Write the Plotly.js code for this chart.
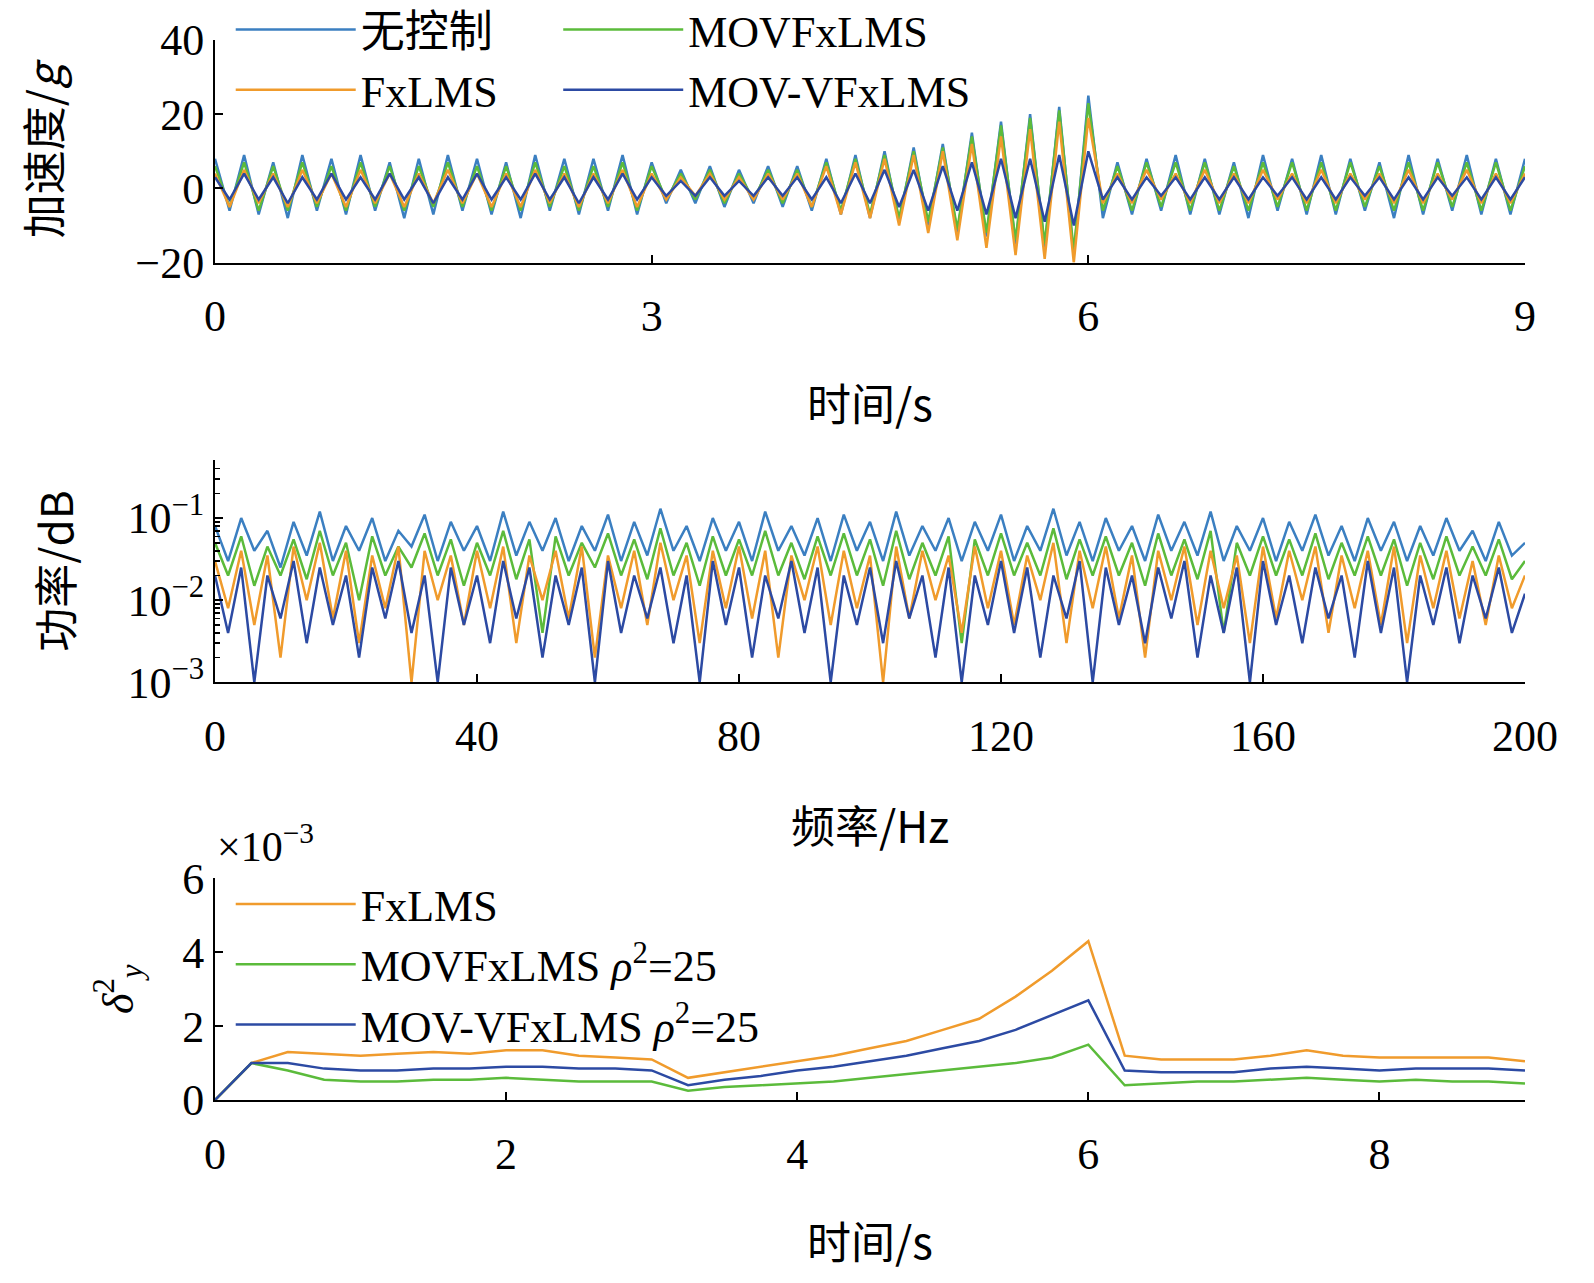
<!DOCTYPE html>
<html>
<head>
<meta charset="utf-8">
<script src="https://cdn.plot.ly/plotly-3.0.1.min.js"></script>
<style>body{margin:0;background:#fff}#plot{width:1594px;height:1283px}</style>
</head>
<body>
<div id="plot"></div>
<script>
// time panel, one value every 0.1 s from 0 to 9 s
const tStep = 0.1;
const accNoControl = [8,-6,9,-7,7,-8,9,-6,8,-7,9,-6,7,-8,8,-7,9,-6,8,-7,7,-8,9,-6,8,-7,8,-6,9,-7,7,
  -4,5,-4,6,-5,5,-4,6,-5,6,
  -6,8,-7,9,-8,10,-9,11,-10,12,
  -12,15,-13,18,-15,20,-16,22,-18,25,
  -8,7,-7,8,-6,9,-7,8,-7,7,-8,9,-6,8,-7,9,-7,8,-6,7,-8,9,-7,8,-6,9,-7,8,-7,8];
const accMovf = [6,-5,7,-6,6,-6,7,-5,6,-6,7,-5,6,-6,6,-5,7,-5,6,-6,6,-6,7,-5,6,-6,6,-5,7,-6,6,
  -3,4,-3,5,-4,4,-3,5,-4,5,
  -5,7,-6,8,-7,9,-8,10,-9,11,
  -11,14,-12,17,-14,19,-15,21,-17,23,
  -6,6,-6,7,-5,7,-6,7,-6,6,-6,7,-5,7,-6,7,-6,7,-5,6,-6,7,-6,7,-5,7,-6,7,-6,6];
const accFx = [4,-5,5,-4,4,-5,5,-4,4,-5,5,-4,4,-5,4,-4,5,-4,4,-5,4,-5,5,-4,4,-5,4,-4,5,-5,4,
  -3,3,-2,4,-3,3,-3,4,-3,4,
  -5,6,-7,7,-8,8,-10,9,-12,10,
  -14,12,-16,14,-18,16,-19,18,-20,19,
  -4,4,-4,5,-3,4,-4,5,-4,4,-4,5,-3,4,-4,5,-4,4,-3,4,-4,5,-4,4,-3,5,-4,4,-4,4];
const accMovv = [3,-3,4,-3,3,-4,3,-3,4,-3,3,-3,4,-3,3,-4,3,-3,4,-3,3,-3,4,-3,3,-4,3,-3,4,-3,3,
  -2,2,-2,3,-2,2,-2,3,-2,3,
  -3,3,-4,4,-4,5,-5,5,-6,6,
  -6,7,-7,8,-8,8,-9,9,-10,10,
  -3,3,-3,3,-2,3,-3,3,-3,3,-3,3,-2,3,-3,3,-3,3,-2,3,-3,3,-3,3,-2,3,-3,3,-3,3];

// spectrum panel, one value every 2 Hz from 0 to 200 Hz
const fStep = 2;
const psdNoControl = [0.08,0.03,0.1,0.04,0.07,0.025,0.09,0.035,0.12,0.03,0.08,0.04,0.1,0.03,0.07,0.045,0.11,0.03,0.09,0.04,
  0.08,0.03,0.12,0.035,0.09,0.04,0.1,0.03,0.08,0.04,0.11,0.03,0.09,0.035,0.13,0.04,0.08,0.03,0.1,0.04,
  0.09,0.03,0.12,0.04,0.08,0.035,0.1,0.03,0.11,0.04,0.09,0.03,0.12,0.035,0.08,0.04,0.1,0.03,0.09,0.04,
  0.11,0.03,0.08,0.04,0.13,0.035,0.09,0.03,0.1,0.04,0.08,0.03,0.11,0.04,0.09,0.035,0.12,0.03,0.08,0.04,
  0.1,0.03,0.09,0.04,0.11,0.035,0.08,0.03,0.1,0.04,0.09,0.03,0.08,0.035,0.1,0.04,0.07,0.03,0.09,0.035,0.05];
const psdMovf = [0.05,0.02,0.06,0.015,0.045,0.02,0.055,0.018,0.07,0.02,0.05,0.01,0.06,0.02,0.045,0.025,0.065,0.02,0.055,0.015,
  0.05,0.02,0.07,0.018,0.055,0.004,0.06,0.02,0.05,0.025,0.065,0.02,0.055,0.018,0.075,0.02,0.05,0.015,0.06,0.02,
  0.055,0.02,0.07,0.02,0.05,0.018,0.06,0.02,0.065,0.02,0.055,0.015,0.07,0.018,0.05,0.02,0.06,0.003,0.055,0.02,
  0.065,0.02,0.05,0.02,0.075,0.018,0.055,0.02,0.06,0.02,0.05,0.015,0.065,0.02,0.055,0.018,0.07,0.004,0.05,0.02,
  0.06,0.02,0.055,0.02,0.065,0.018,0.05,0.02,0.06,0.02,0.055,0.015,0.05,0.018,0.06,0.02,0.045,0.02,0.055,0.018,0.03];
const psdFx = [0.03,0.008,0.04,0.005,0.035,0.002,0.045,0.01,0.05,0.006,0.04,0.003,0.035,0.008,0.045,0.001,0.04,0.01,0.035,0.005,
  0.04,0.008,0.045,0.003,0.035,0.01,0.04,0.006,0.045,0.002,0.035,0.008,0.04,0.005,0.05,0.01,0.035,0.003,0.04,0.008,
  0.045,0.006,0.04,0.002,0.035,0.01,0.045,0.005,0.04,0.008,0.035,0.001,0.045,0.006,0.04,0.01,0.035,0.004,0.045,0.008,
  0.04,0.005,0.035,0.01,0.05,0.003,0.04,0.008,0.045,0.006,0.035,0.002,0.04,0.01,0.045,0.005,0.04,0.008,0.035,0.003,
  0.045,0.006,0.04,0.01,0.045,0.004,0.035,0.008,0.04,0.005,0.045,0.003,0.035,0.008,0.04,0.006,0.03,0.005,0.035,0.008,0.02];
const psdMovv = [0.02,0.004,0.025,0.001,0.02,0.006,0.03,0.003,0.025,0.005,0.02,0.002,0.025,0.006,0.03,0.004,0.02,0.001,0.025,0.005,
  0.02,0.003,0.03,0.006,0.025,0.002,0.02,0.005,0.025,0.001,0.03,0.004,0.02,0.006,0.025,0.003,0.02,0.001,0.03,0.005,
  0.025,0.002,0.02,0.006,0.03,0.004,0.025,0.001,0.02,0.005,0.025,0.003,0.03,0.006,0.02,0.002,0.025,0.001,0.02,0.005,
  0.03,0.004,0.025,0.002,0.02,0.006,0.03,0.001,0.025,0.005,0.02,0.003,0.025,0.006,0.03,0.002,0.02,0.004,0.025,0.001,
  0.03,0.005,0.02,0.003,0.025,0.006,0.02,0.002,0.03,0.004,0.025,0.001,0.02,0.005,0.025,0.003,0.02,0.006,0.025,0.004,0.012];
const logMinorTicks = [0.002,0.003,0.004,0.005,0.006,0.007,0.008,0.009,
  0.02,0.03,0.04,0.05,0.06,0.07,0.08,0.09,0.2,0.3,0.4,0.5];

// variance panel (x1e-3), one value every 0.25 s
const vStep = 0.25;
const varFx = [0,1.0,1.3,1.25,1.2,1.25,1.3,1.25,1.35,1.35,1.2,1.15,1.1,0.6,0.75,0.9,1.05,1.2,1.4,1.6,1.9,2.2,2.8,3.5,4.3,1.2,1.1,1.1,1.1,1.2,1.35,1.2,1.15,1.15,1.15,1.15,1.05];
const varMovf = [0,1.0,0.8,0.55,0.5,0.5,0.55,0.55,0.6,0.55,0.5,0.5,0.5,0.25,0.35,0.4,0.45,0.5,0.6,0.7,0.8,0.9,1.0,1.15,1.5,0.4,0.45,0.5,0.5,0.55,0.6,0.55,0.5,0.55,0.5,0.5,0.45];
const varMovv = [0,1.0,1.0,0.85,0.8,0.8,0.85,0.85,0.9,0.9,0.85,0.85,0.8,0.4,0.55,0.65,0.8,0.9,1.05,1.2,1.4,1.6,1.9,2.3,2.7,0.8,0.75,0.75,0.75,0.85,0.9,0.85,0.8,0.85,0.85,0.85,0.8];

const cNC = "#3b7fc1", cFx = "#f09b2c", cMovf = "#5bbb3b", cMovv = "#2c4aa3";
const idx = (arr, step) => arr.map((_, i) => +(i * step).toFixed(3));

function trace(y, step, color, name, xa, ya, legend, rank, show) {
    return {x: idx(y, step), y: y, mode: "lines", name: name, xaxis: xa, yaxis: ya,
        line: {color: color, width: 2.5}, legend: legend, legendrank: rank, showlegend: show};
}

const data = [
    trace(accNoControl, tStep, cNC, "无控制", "x", "y", "legend", 1, true),
    trace(accMovf, tStep, cMovf, "MOVFxLMS", "x", "y", "legend3", 1, true),
    trace(accFx, tStep, cFx, "FxLMS", "x", "y", "legend", 2, true),
    trace(accMovv, tStep, cMovv, "MOV-VFxLMS", "x", "y", "legend3", 2, true),
    trace(psdNoControl, fStep, cNC, "", "x2", "y2", "legend", 5, false),
    trace(psdMovf, fStep, cMovf, "", "x2", "y2", "legend", 6, false),
    trace(psdFx, fStep, cFx, "", "x2", "y2", "legend", 7, false),
    trace(psdMovv, fStep, cMovv, "", "x2", "y2", "legend", 8, false),
    trace(varFx, vStep, cFx, "FxLMS", "x3", "y3", "legend2", 1, true),
    trace(varMovf, vStep, cMovf, "MOVFxLMS <i>ρ</i><sup>2</sup>=25", "x3", "y3", "legend2", 2, true),
    trace(varMovv, vStep, cMovv, "MOV-VFxLMS <i>ρ</i><sup>2</sup>=25", "x3", "y3", "legend2", 3, true)
];

const serif = "Liberation Serif, Times New Roman, serif";
const cjk = "Noto Sans CJK SC, sans-serif";
const axBase = {showline: true, linecolor: "#000", linewidth: 2, ticks: "inside", ticklen: 8,
    tickwidth: 2, tickcolor: "#000", showgrid: false, zeroline: false, mirror: false,
    tickfont: {family: serif, size: 44, color: "#000"}};
const legBase = {orientation: "v", xanchor: "left", yanchor: "top", itemwidth: 120,
    bgcolor: "rgba(0,0,0,0)", tracegroupgap: 0,
    font: {family: "Liberation Serif, Noto Sans CJK SC, serif", size: 44, color: "#000"}};

const layout = {
    width: 1594, height: 1283, paper_bgcolor: "#fff", plot_bgcolor: "#fff",
    margin: {l: 215, r: 69, t: 40, b: 183, autoexpand: false},
    showlegend: true,
    xaxis: Object.assign({}, axBase, {domain: [0, 1], anchor: "y", range: [0, 9],
        tickvals: [0, 3, 6, 9], ticklabelstandoff: 14,
        title: {text: "时间/s", font: {family: cjk, size: 44, color: "#000"}, standoff: 50}}),
    yaxis: Object.assign({}, axBase, {domain: [0.79, 1], anchor: "x", range: [-20, 40],
        tickvals: [-20, 0, 20, 40], ticktext: ["−20", "0", "20", "40"],
        title: {text: "加速度/<i>g</i>", font: {family: cjk, size: 44, color: "#000"}, standoff: 60}}),
    xaxis2: Object.assign({}, axBase, {domain: [0, 1], anchor: "y2", range: [0, 200],
        tickvals: [0, 40, 80, 120, 160, 200], ticklabelstandoff: 14,
        title: {text: "频率/Hz", font: {family: cjk, size: 44, color: "#000"}, standoff: 52}}),
    yaxis2: Object.assign({}, axBase, {domain: [0.394, 0.604], anchor: "x2", type: "log",
        range: [-3, -0.29], tickvals: [0.001, 0.01, 0.1],
        ticktext: ["10<sup>−3</sup>", "10<sup>−2</sup>", "10<sup>−1</sup>"],
        minor: {tickvals: logMinorTicks, ticks: "inside", ticklen: 5, tickcolor: "#000", tickwidth: 1.5},
        title: {text: "功率/dB", font: {family: cjk, size: 44, color: "#000"}, standoff: 40}}),
    xaxis3: Object.assign({}, axBase, {domain: [0, 1], anchor: "y3", range: [0, 9],
        tickvals: [0, 2, 4, 6, 8], ticklabelstandoff: 14,
        title: {text: "时间/s", font: {family: cjk, size: 44, color: "#000"}, standoff: 50}}),
    yaxis3: Object.assign({}, axBase, {domain: [0, 0.209], anchor: "x3", range: [0, 6],
        tickvals: [0, 2, 4, 6],
        title: {text: "<i>δ</i><sup>2</sup><sub><i>y</i></sub>", font: {family: serif, size: 44, color: "#000"}, standoff: 35}}),
    legend: Object.assign({}, legBase, {x: 0.012, y: 1.043}),
    legend3: Object.assign({}, legBase, {x: 0.262, y: 1.043}),
    legend2: Object.assign({}, legBase, {x: 0.012, y: 0.218}),
    annotations: [{xref: "paper", yref: "paper", x: 0, y: 0.215, xanchor: "left", yanchor: "bottom",
        showarrow: false, text: "×10<sup>−3</sup>", font: {family: serif, size: 42, color: "#000"}}]
};

Plotly.newPlot("plot", data, layout, {staticPlot: true});
</script>
</body>
</html>
